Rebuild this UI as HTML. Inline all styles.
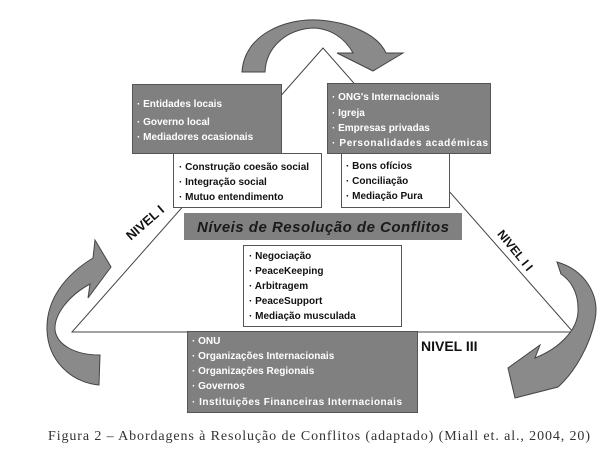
<!DOCTYPE html>
<html><head><meta charset="utf-8"><style>
html,body{margin:0;padding:0;background:#fff;}
svg{display:block;}
.w{fill:#fff;font-family:"Liberation Sans",sans-serif;font-weight:bold;font-size:10px;}
.b{fill:#111;font-family:"Liberation Sans",sans-serif;font-weight:bold;font-size:10px;}
</style></head><body>
<svg width="616" height="457" viewBox="0 0 616 457" xmlns="http://www.w3.org/2000/svg">
<rect width="616" height="457" fill="#fff"/>
<!-- triangle -->
<polygon points="323,48 72,332 573,332" fill="none" stroke="#444" stroke-width="1"/>
<!-- top arrow -->
<path d="M242,72 C244,35 285,18 318,20 C350,22 378,35 386,53 L403,53 L373,71 L337,53 L353,53 C345,38 330,28 312,28 C285,30 266,48 265,72 Z" fill="#8a8a8a" stroke="#444" stroke-width="1"/>
<!-- left arrow -->
<path d="M99,385 C70,382 48,360 47,330 C46,300 65,275 93,258 L95,240 L111,267 L88,298 L90,284 C68,296 54,315 55,330 C57,345 75,355 100,355 Z" fill="#8a8a8a" stroke="#444" stroke-width="1"/>
<!-- right arrow -->
<path d="M557,262 C585,270 600,295 595,320 C590,345 575,372 558,387 L515,398 L508,368 L540,345 L535,358 C560,348 577,330 578,312 C579,292 570,280 561,274 Z" fill="#8a8a8a" stroke="#444" stroke-width="1"/>
<!-- top left gray -->
<rect x="132.5" y="84.5" width="149" height="69" fill="#808080" stroke="#555"/>
<text class="w" x="137" y="107">· Entidades locais</text>
<text class="w" x="137" y="125">· Governo local</text>
<text class="w" x="137" y="140">· Mediadores ocasionais</text>
<!-- top right gray -->
<rect x="327.5" y="83.5" width="163" height="70" fill="#808080" stroke="#555"/>
<text class="w" x="332" y="100">· ONG's Internacionais</text>
<text class="w" x="332" y="116">· Igreja</text>
<text class="w" x="332" y="131">· Empresas privadas</text>
<text class="w" x="332" y="146" textLength="156">· Personalidades académicas</text>
<!-- white boxes -->
<rect x="173.5" y="153.5" width="148" height="54" fill="#fff" stroke="#555"/>
<text class="b" x="179" y="170">· Construção coesão social</text>
<text class="b" x="179" y="185">· Integração social</text>
<text class="b" x="179" y="200">· Mutuo entendimento</text>
<rect x="341.5" y="153.5" width="108" height="54" fill="#fff" stroke="#555"/>
<text class="b" x="346" y="169">· Bons ofícios</text>
<text class="b" x="346" y="184">· Conciliação</text>
<text class="b" x="346" y="199">· Mediação Pura</text>
<!-- title -->
<rect x="184" y="213" width="278" height="27" fill="#808080"/>
<text x="323" y="232" text-anchor="middle" fill="#1a1a1a" font-family="Liberation Sans,sans-serif" font-weight="bold" font-style="italic" font-size="15" textLength="252">Níveis de Resolução de Conflitos</text>
<!-- middle white -->
<rect x="243.5" y="245.5" width="158" height="81" fill="#fff" stroke="#555"/>
<text class="b" x="249" y="259">· Negociação</text>
<text class="b" x="249" y="274">· PeaceKeeping</text>
<text class="b" x="249" y="289">· Arbitragem</text>
<text class="b" x="249" y="304">· PeaceSupport</text>
<text class="b" x="249" y="319">· Mediação musculada</text>
<!-- bottom gray -->
<rect x="187.5" y="331.5" width="230" height="81" fill="#808080" stroke="#555"/>
<text class="w" x="192" y="344">· ONU</text>
<text class="w" x="192" y="359">· Organizações Internacionais</text>
<text class="w" x="192" y="374">· Organizações Regionais</text>
<text class="w" x="192" y="389">· Governos</text>
<text class="w" x="192" y="405" textLength="210">· Instituições Financeiras Internacionais</text>
<!-- level labels -->
<text x="421" y="351" fill="#111" font-family="Liberation Sans,sans-serif" font-weight="bold" font-size="14">NIVEL III</text>
<text transform="translate(148,226) rotate(-41)" text-anchor="middle" fill="#111" font-family="Liberation Sans,sans-serif" font-weight="bold" font-size="13">NIVEL I</text>
<text transform="translate(512,253) rotate(51)" text-anchor="middle" fill="#111" font-family="Liberation Sans,sans-serif" font-weight="bold" font-size="12">NIVEL I I</text>
<!-- caption -->
<text x="48" y="440" fill="#333" font-family="Liberation Serif,serif" font-size="14" textLength="542">Figura 2 – Abordagens à Resolução de Conflitos (adaptado) (Miall et. al., 2004, 20)</text>
</svg>
</body></html>
